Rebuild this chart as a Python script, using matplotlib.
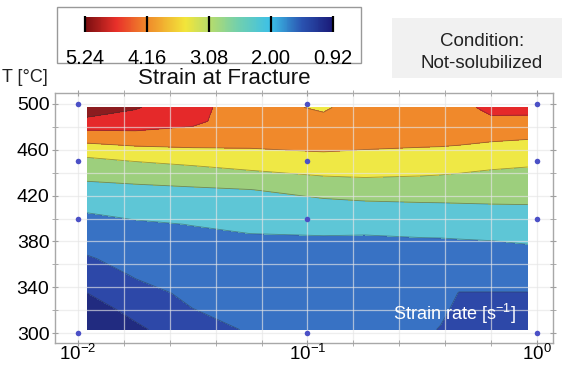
import numpy as np
import matplotlib
matplotlib.use('Agg')
import matplotlib.pyplot as plt
from matplotlib.colors import LinearSegmentedColormap, Normalize
from matplotlib.patches import Rectangle
from matplotlib.ticker import FixedLocator, NullFormatter
import matplotlib.cm as cm

plt.rcParams['font.family'] = ['Liberation Sans', 'DejaVu Sans']
plt.rcParams['mathtext.fontset'] = 'custom'
plt.rcParams['mathtext.rm'] = 'Liberation Sans'
plt.rcParams['mathtext.it'] = 'Liberation Sans:italic'
plt.rcParams['mathtext.bf'] = 'Liberation Sans:bold'

# ---------------- data ----------------
# strain rate given as log10 exponent (axis is logarithmic, 10^-2 .. 10^0)
log_strain_rate = [-1.96, -1.75, -1.50, -1.25, -0.93, -0.75,
                   -0.50, -0.42, -0.34, -0.20, -0.04]
temperature = [303, 320, 335, 350, 365, 380, 395, 410, 425, 440, 455, 470, 485, 497]
strain_at_fracture = [
    [0.93, 1.31, 1.70, 1.92, 2.00, 2.00, 1.95, 1.86, 1.72, 1.55, 1.55],
    [1.18, 1.53, 1.87, 2.01, 2.07, 2.06, 2.02, 1.95, 1.80, 1.70, 1.70],
    [1.40, 1.73, 1.97, 2.08, 2.13, 2.12, 2.08, 2.04, 1.87, 1.87, 1.87],
    [1.62, 1.91, 2.07, 2.16, 2.19, 2.18, 2.15, 2.13, 2.04, 2.03, 2.04],
    [1.84, 2.04, 2.16, 2.23, 2.25, 2.24, 2.22, 2.22, 2.20, 2.19, 2.21],
    [2.04, 2.18, 2.26, 2.31, 2.31, 2.30, 2.32, 2.32, 2.33, 2.35, 2.39],
    [2.22, 2.31, 2.37, 2.42, 2.46, 2.46, 2.50, 2.52, 2.55, 2.57, 2.60],
    [2.43, 2.51, 2.57, 2.62, 2.69, 2.72, 2.76, 2.77, 2.78, 2.80, 2.81],
    [2.69, 2.74, 2.78, 2.83, 2.99, 3.06, 3.06, 3.05, 3.05, 3.03, 3.02],
    [2.99, 3.04, 3.13, 3.26, 3.40, 3.42, 3.38, 3.36, 3.33, 3.27, 3.23],
    [3.36, 3.47, 3.59, 3.69, 3.76, 3.72, 3.66, 3.64, 3.62, 3.56, 3.50],
    [3.97, 4.07, 4.05, 3.95, 3.95, 3.95, 3.95, 3.95, 3.92, 3.86, 3.82],
    [4.62, 4.55, 4.38, 4.00, 3.95, 4.05, 4.08, 4.10, 4.12, 4.18, 4.17],
    [5.10, 4.80, 4.42, 4.02, 3.72, 4.10, 4.15, 4.18, 4.12, 4.42, 4.42],
]
contour_levels = [0.92, 1.40, 1.88, 2.36, 2.84, 3.32, 3.80, 4.28, 4.76, 5.24]
band_colors = ['#212b80', '#2d48a8', '#3872c4', '#5ec6d6', '#9dcf7d',
               '#efe845', '#f0892b', '#e5292a', '#8c1c1f']

sample_log_rate = [-2, -1, 0]
sample_temp = [300, 400, 450, 500]

cbar_ticks = [5.24, 4.16, 3.08, 2.00, 0.92]
cbar_labels = ['5.24', '4.16', '3.08', '2.00', '0.92']
cbar_anchor_vals = [0.92, 1.45, 2.00, 2.55, 3.08, 3.50, 4.16, 4.70, 5.24]
cbar_anchor_cols = ['#1a1a78', '#2a52b0', '#3cc0e8', '#6fcfb0', '#b8dc6a',
                    '#f2e53a', '#f08a2a', '#e8302a', '#7a0e10']

x_major = [-2, -1, 0]
x_major_labels = ['10$^{-2}$', '10$^{-1}$', '10$^{0}$']
x_minor = [-2 + 0.2 * k for k in range(11)]
y_major = [300, 340, 380, 420, 460, 500]
y_minor = list(range(300, 501, 20))

W, H = 562, 365
def fx(px):
    return px / W
def fy(py):
    return 1 - py / H

fig = plt.figure(figsize=(W / 100, H / 100), dpi=100)

# ---------------- main axes ----------------
ax = fig.add_axes([fx(55), fy(343), fx(553) - fx(55), fy(93) - fy(343)])
X, Y = np.meshgrid(log_strain_rate, temperature)
Z = np.array(strain_at_fracture)
ax.contourf(X, Y, Z, levels=contour_levels, colors=band_colors, zorder=1)
ax.contour(X, Y, Z, levels=contour_levels[1:-1], colors='#303030',
           linewidths=0.6, alpha=0.45, zorder=1.5)

SR, ST = np.meshgrid(sample_log_rate, sample_temp)
ax.plot(SR.ravel(), ST.ravel(), 'o', ms=4, color='#4b50c6', mec='none',
        clip_on=False, zorder=4)

ax.set_xlim(-2.1, 0.07)
ax.set_ylim(291.3, 509.6)
ax.xaxis.set_major_locator(FixedLocator(x_major))
ax.set_xticklabels(x_major_labels)
ax.xaxis.set_minor_locator(FixedLocator(x_minor))
ax.xaxis.set_minor_formatter(NullFormatter())
ax.yaxis.set_major_locator(FixedLocator(y_major))
ax.yaxis.set_minor_locator(FixedLocator(y_minor))

ax.grid(which='both', color='#e6e6e6', alpha=0.65, linewidth=0.9, zorder=2)
ax.set_axisbelow(False)
for s in ax.spines.values():
    s.set_color('#a8a8a8')
    s.set_linewidth(1.0)
ax.tick_params(which='both', direction='inout', length=5, color='#a0a0a0',
               top=True, right=True, labelsize=14)
ax.tick_params(axis='x', which='both', pad=-1.5, labelsize=13.5)
ax.tick_params(axis='y', which='both', pad=1.5)

# ---------------- decorations ----------------
fig.patches.append(Rectangle((fx(392), fy(78)), fx(575) - fx(392), fy(18) - fy(78),
                             transform=fig.transFigure, facecolor='#f1f1f1',
                             edgecolor='none', zorder=-2))
fig.text(fx(482), fy(41), 'Condition:', fontsize=13.5, ha='center', va='center', color='#222222')
fig.text(fx(482), fy(64), 'Not-solubilized', fontsize=13.5, ha='center', va='center', color='#222222')

fig.patches.append(Rectangle((fx(57), fy(63)), fx(361) - fx(57), fy(7) - fy(63),
                             transform=fig.transFigure, facecolor='white',
                             edgecolor='#999999', linewidth=1.0, zorder=-2))

fig.text(fx(2), fy(77), 'T [°C]', fontsize=13, ha='left', va='center', color='#222222')
fig.text(fx(224), fy(78), 'Strain at Fracture', fontsize=16, ha='center', va='center', color='#111111')
fig.text(fx(516), fy(314), 'Strain rate [s$^{-1}$]', fontsize=13, ha='right',
         va='center', color='white', zorder=10)

# ---------------- colorbar ----------------
cmap = LinearSegmentedColormap.from_list(
    'strain', [((v - cbar_anchor_vals[0]) / (cbar_anchor_vals[-1] - cbar_anchor_vals[0]), c)
               for v, c in zip(cbar_anchor_vals, cbar_anchor_cols)])
norm = Normalize(vmin=min(cbar_ticks), vmax=max(cbar_ticks))
cax = fig.add_axes([fx(85), fy(32), fx(333) - fx(85), fy(17) - fy(32)])
cax.set_zorder(5)
cb = fig.colorbar(cm.ScalarMappable(norm=norm, cmap=cmap), cax=cax,
                  orientation='horizontal', ticks=cbar_ticks)
cb.set_ticklabels(cbar_labels)
cax.invert_xaxis()
cb.outline.set_visible(False)
cax.tick_params(direction='in', length=11.5, width=1.6, color='black',
                pad=12, labelsize=14.5)

fig.savefig('out.png', dpi=100)
